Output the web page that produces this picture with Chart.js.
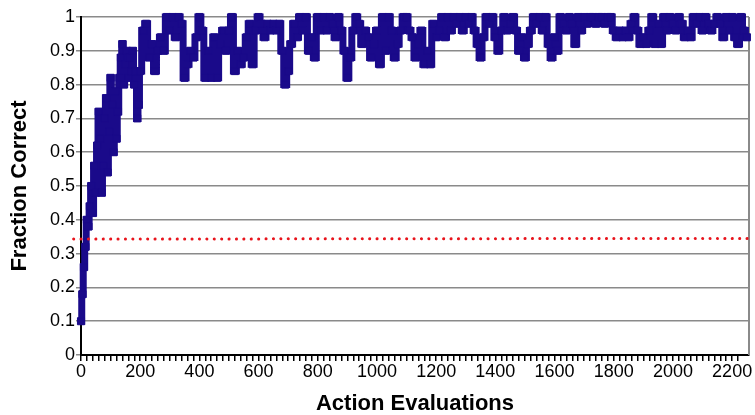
<!DOCTYPE html>
<html>
<head>
<meta charset="utf-8">
<script src="https://cdn.jsdelivr.net/npm/chart.js@4.4.1/dist/chart.umd.min.js"></script>
<style>
  html, body { margin: 0; padding: 0; background: #fff; }
  #wrap { width: 755px; height: 415px; }
</style>
</head>
<body>
<div id="wrap"><canvas id="chart" width="755" height="415"></canvas></div>
<script>
// action evaluations (x) and fraction correct (y)
const evals = [
  0, 5, 10, 15, 20, 25, 30, 35, 40, 45, 50, 55, 60, 65, 70, 75, 80, 85, 90, 95,
  100, 105, 110, 115, 120, 125, 130, 135, 140, 145, 150, 155, 160, 165, 170, 175, 180, 185, 190, 195,
  200, 210, 220, 230, 240, 250, 260, 270, 280, 290,
  300, 310, 320, 330, 340, 350, 360, 370, 380, 390,
  400, 410, 420, 430, 440, 450, 460, 470, 480, 490,
  500, 510, 520, 530, 540, 550, 560, 570, 580, 590,
  600, 610, 620, 630, 640, 650, 660, 670, 680, 690,
  700, 710, 720, 730, 740, 750, 760, 770, 780, 790,
  800, 810, 820, 830, 840, 850, 860, 870, 880, 890,
  900, 910, 920, 930, 940, 950, 960, 970, 980, 990,
  1000, 1010, 1020, 1030, 1040, 1050, 1060, 1070, 1080, 1090,
  1100, 1110, 1120, 1130, 1140, 1150, 1160, 1170, 1180, 1190,
  1200, 1210, 1220, 1230, 1240, 1250, 1260, 1270, 1280, 1290,
  1300, 1310, 1320, 1330, 1340, 1350, 1360, 1370, 1380, 1390,
  1400, 1410, 1420, 1430, 1440, 1450, 1460, 1470, 1480, 1490,
  1500, 1510, 1520, 1530, 1540, 1550, 1560, 1570, 1580, 1590,
  1600, 1610, 1620, 1630, 1640, 1650, 1660, 1670, 1680, 1690,
  1700, 1710, 1720, 1730, 1740, 1750, 1760, 1770, 1780, 1790,
  1800, 1810, 1820, 1830, 1840, 1850, 1860, 1870, 1880, 1890,
  1900, 1910, 1920, 1930, 1940, 1950, 1960, 1970, 1980, 1990,
  2000, 2010, 2020, 2030, 2040, 2050, 2060, 2070, 2080, 2090,
  2100, 2110, 2120, 2130, 2140, 2150, 2160, 2170, 2180, 2190,
  2200, 2210, 2220, 2230, 2240, 2250
];

const fraction = [
  0.10, 0.18, 0.26, 0.32, 0.40, 0.38, 0.44, 0.50, 0.42, 0.56, 0.48, 0.62, 0.72, 0.64, 0.48, 0.56, 0.70, 0.76, 0.54, 0.66,
  0.82, 0.74, 0.60, 0.78, 0.64, 0.72, 0.82, 0.88, 0.92, 0.80, 0.86, 0.90, 0.82, 0.88, 0.84, 0.90, 0.80, 0.84, 0.70, 0.74,
  0.84, 0.96, 0.98, 0.88, 0.92, 0.84, 0.90, 0.94, 0.90, 1.00,
  0.96, 1.00, 0.94, 1.00, 0.98, 0.82, 0.86, 0.90, 0.88, 0.94,
  1.00, 0.96, 0.82, 0.90, 0.82, 0.94, 0.82, 0.92, 0.96, 0.90,
  0.96, 1.00, 0.84, 0.90, 0.86, 0.88, 0.94, 0.98, 0.86, 0.96,
  1.00, 0.98, 0.94, 0.98, 0.96, 0.98, 0.96, 0.98, 0.90, 0.80,
  0.84, 0.92, 0.98, 0.94, 1.00, 0.96, 1.00, 0.90, 0.94, 0.88,
  1.00, 0.96, 1.00, 0.96, 1.00, 0.98, 0.94, 1.00, 0.96, 0.90,
  0.82, 0.88, 0.96, 1.00, 0.98, 0.92, 0.96, 0.94, 0.88, 0.92,
  0.96, 0.86, 1.00, 0.90, 1.00, 0.96, 0.88, 0.92, 0.96, 1.00,
  1.00, 0.96, 0.94, 0.88, 0.92, 0.96, 0.86, 0.90, 0.86, 0.98,
  0.94, 0.96, 1.00, 0.94, 1.00, 0.96, 1.00, 0.98, 1.00, 0.96,
  1.00, 0.98, 1.00, 0.96, 0.92, 0.88, 0.94, 1.00, 0.98, 1.00,
  0.94, 0.90, 0.96, 1.00, 0.96, 0.98, 1.00, 0.96, 0.90, 0.94,
  0.88, 0.92, 0.96, 1.00, 0.98, 1.00, 0.96, 1.00, 0.92, 0.88,
  0.94, 0.90, 1.00, 0.98, 0.96, 1.00, 0.98, 0.92, 1.00, 0.96,
  1.00, 0.98, 1.00, 1.00, 0.98, 1.00, 1.00, 0.98, 1.00, 1.00,
  0.96, 0.94, 0.96, 0.94, 0.96, 0.94, 0.98, 1.00, 0.96, 0.92,
  0.94, 0.92, 0.96, 1.00, 0.92, 0.98, 0.92, 1.00, 0.96, 1.00,
  0.98, 0.96, 1.00, 0.98, 0.94, 0.96, 0.94, 1.00, 0.98, 1.00,
  0.96, 1.00, 0.98, 0.96, 0.98, 1.00, 0.98, 0.94, 1.00, 0.96,
  1.00, 0.94, 0.92, 1.00, 0.96, 0.94
];

// chance level (red dotted line)
const chanceX = [-25, 2257];
const chanceY = [0.343, 0.345];

const xTicksMajor = 200;
const xTicksMinor = 20;
const yTickStep = 0.1;

const font = "'Liberation Sans', Arial, sans-serif";
const navy = "#1a0a8a";

const rightBorder = {
  id: "rightBorder",
  beforeDatasetsDraw(chart) {
    const { ctx, chartArea } = chart;
    ctx.save();
    ctx.strokeStyle = "#8a8a8a";
    ctx.lineWidth = 2;
    ctx.beginPath();
    ctx.moveTo(chartArea.right, chartArea.top);
    ctx.lineTo(chartArea.right, chartArea.bottom);
    ctx.stroke();
    ctx.restore();
  }
};

const ctx = document.getElementById("chart").getContext("2d");
new Chart(ctx, {
  type: "line",
  data: {
    datasets: [
      {
        label: "chance",
        data: chanceX.map((x, i) => ({ x, y: chanceY[i] })),
        borderColor: "#e8141c",
        borderWidth: 3,
        borderDash: [0.1, 7.3],
        borderCapStyle: "round",
        pointRadius: 0,
        clip: false
      },
      {
        label: "Fraction Correct",
        data: evals.map((x, i) => ({ x, y: fraction[i] })),
        borderColor: navy,
        backgroundColor: navy,
        borderWidth: 7,
        borderJoinStyle: "miter",
        stepped: "middle",
        pointStyle: "rect",
        pointRadius: 5,
        pointBorderWidth: 1,
        pointBorderColor: navy,
        pointBackgroundColor: navy,
        clip: false
      }
    ]
  },
  options: {
    responsive: false,
    animation: false,
    layout: { padding: { top: 17, right: 3, left: 0, bottom: 0 } },
    plugins: { legend: { display: false }, tooltip: { enabled: false } },
    scales: {
      x: {
        type: "linear",
        min: 0,
        max: 2257,
        afterBuildTicks(scale) {
          scale.ticks = scale.ticks.filter(t => t.value % xTicksMinor === 0);
        },
        afterFit(scale) { scale.height = 60; },
        ticks: {
          stepSize: xTicksMinor,
          autoSkip: false,
          maxRotation: 0,
          padding: 0,
          color: "#000",
          font: { family: font, size: 18 },
          callback: v => (v % xTicksMajor === 0 ? String(v) : "")
        },
        grid: {
          drawOnChartArea: false,
          drawTicks: true,
          tickLength: 6,
          tickColor: "#000",
          lineWidth: 1.5
        },
        border: { color: "#000", width: 2 },
        title: {
          display: true,
          text: "Action Evaluations",
          color: "#000",
          font: { family: font, size: 22, weight: "bold", lineHeight: 1 },
          padding: { top: 0, bottom: 0 }
        }
      },
      y: {
        min: 0,
        max: 1,
        afterFit(scale) { scale.width = 81; },
        ticks: {
          stepSize: yTickStep,
          padding: 1,
          color: "#000",
          font: { family: font, size: 18 },
          callback: v => String(Math.round(v * 10) / 10)
        },
        grid: {
          color: "#8a8a8a",
          lineWidth: 1.5,
          tickLength: 5,
          tickColor: "#8a8a8a"
        },
        border: { color: "#000", width: 2 },
        title: {
          display: true,
          text: "Fraction Correct",
          color: "#000",
          font: { family: font, size: 22, weight: "bold", lineHeight: 1 },
          padding: { top: 9, bottom: 0 }
        }
      }
    }
  },
  plugins: [rightBorder]
});
</script>
</body>
</html>
